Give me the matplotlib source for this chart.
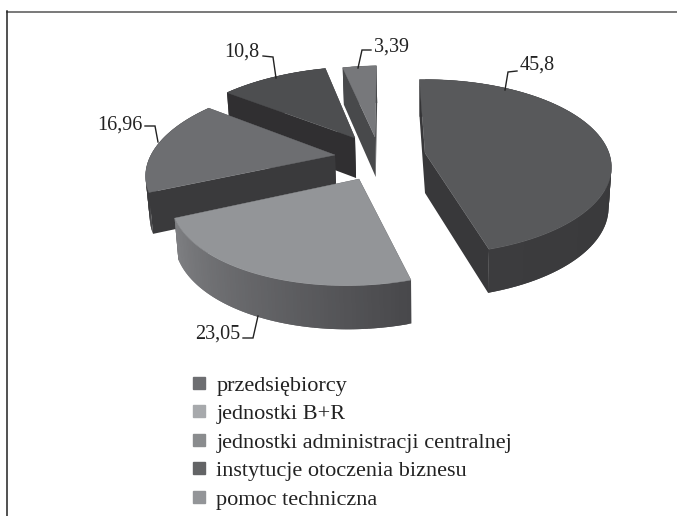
import numpy as np
import matplotlib
matplotlib.use("Agg")
import matplotlib.pyplot as plt
from matplotlib.colors import to_rgb
from matplotlib.lines import Line2D
from matplotlib.patches import Polygon

plt.rcParams['font.family'] = ['Liberation Serif', 'DejaVu Serif']

categories = ["przedsiębiorcy", "jednostki B+R", "jednostki administracji centralnej",
              "instytucje otoczenia biznesu", "pomoc techniczna"]
values = [45.8, 23.05, 16.96, 10.8, 3.39]
value_labels = ["45,8", "23,05", "16,96", "10,8", "3,39"]

top_colors = ["#58595b", "#939598", "#6d6e71", "#4d4e50", "#77787b"]
wall_colors = ["#38383a", "#333335", "#3a3a3c", "#302f31", "#48494b"]
arc_colors = [("#343436", "#3c3c3e"), ("#48484b", "#7f8083"), ("#3a3a3c", "#3a3a3c"),
              ("#302f31", "#302f31"), ("#48494b", "#48494b")]
legend_colors = ["#6d6e71", "#a7a9ac", "#8a8c8e", "#636466", "#939598"]

# pie tip of every slice, in pixels of the picture
apex = [(425, 153), (359, 179), (335, 155), (355, 138), (375, 137)]
start_angle = -2
RX, RY, PERSP, DEPTH = 184, 84, 0.161, 40
VANISH_X, VANISH_Y = 425, 145

# leader lines: slice edge -> elbow -> end, and where the text sits
leaders = [[(505, 90), (508, 72), (517, 71)], [(258, 316), (253, 338), (243, 338)],
           [(158, 142), (155, 126), (145, 126)], [(276, 78), (273, 57), (263, 56)],
           [(358, 68), (362, 50), (371, 50)]]
label_pos = [(520, 65, 'left'), (240, 334, 'right'), (143, 125, 'right'),
             (259, 52, 'right'), (374, 47, 'left')]


def project(ang, cx, cy):
    # clockwise from the top, near edge comes out bigger
    x = np.sin(ang)
    y = np.cos(ang)
    s = 1 / (1 + PERSP * y)
    px = cx + x * RX * s + (cx - VANISH_X) * (s - 1)
    py = cy - y * RY * s + (cy - VANISH_Y) * (s - 1)
    return px, py, DEPTH * s ** 0.5


fig = plt.figure(figsize=(6.77, 5.16), dpi=100)
ax = fig.add_axes([0, 0, 1, 1])
ax.set_xlim(0, 677)
ax.set_ylim(516, 0)
ax.axis('off')

edges = start_angle + np.concatenate([[0], np.cumsum(values)]) / sum(values) * 360

# back slices first
for i in [4, 3, 2, 1, 0]:
    cx, cy = apex[i]
    ang = np.radians(np.linspace(edges[i], edges[i + 1], 80))
    px, py, dep = project(ang, cx, cy)
    top = np.column_stack([px, py])
    low = np.column_stack([px + (VANISH_X - px) * 0.015, py + dep])
    tip_low = (cx + (VANISH_X - cx) * 0.015, cy + DEPTH)

    for j in [0, -1]:
        ax.add_patch(Polygon([(cx, cy), top[j], low[j], tip_low], fc=wall_colors[i], ec='none'))

    c0 = np.array(to_rgb(arc_colors[i][0]))
    c1 = np.array(to_rgb(arc_colors[i][1]))
    for j in range(len(ang) - 1):
        col = c0 + (c1 - c0) * j / (len(ang) - 2)
        # overlap the next strip so no seams show
        k = min(j + 2, len(ang) - 1)
        ax.add_patch(Polygon([top[j], top[k], low[k], low[j]], fc=col, ec='none'))

    ax.add_patch(Polygon(np.vstack([[(cx, cy)], top]), fc=top_colors[i], ec=top_colors[i], lw=0.3))

for pts, (tx, ty, ha), lab in zip(leaders, label_pos, value_labels):
    xs, ys = zip(*pts)
    ax.plot(xs, ys, color="#222222", lw=1.0, solid_joinstyle='miter')
    ax.text(tx, ty, lab, ha=ha, va='center', fontsize=14.5, color="#222222")

# frame: only top and left
ax.plot([7, 677], [12, 12], color="#555555", lw=1.1)
ax.plot([7, 7], [11, 516], color="#222222", lw=1.1)

handles = [Line2D([], [], ls='none', marker='s', ms=8, mfc=c, mec=c) for c in legend_colors]
ax.legend(handles, categories, loc='upper left', bbox_to_anchor=(188 / 677, 1 - 375 / 516),
          frameon=False, fontsize=16, labelspacing=0.36, handletextpad=0.275, handlelength=1.0,
          borderpad=0, borderaxespad=0, labelcolor="#222222")

fig.savefig("out.png", dpi=100)
